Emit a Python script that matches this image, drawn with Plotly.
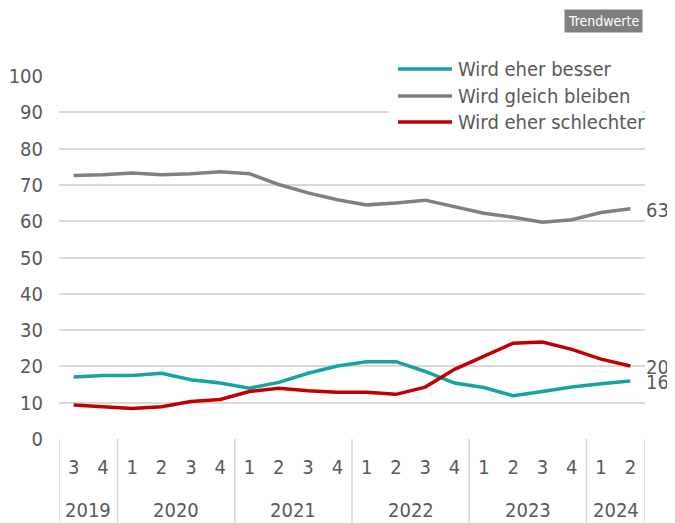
import plotly.graph_objects as go

# quarters per year shown on the x axis
years = ["2019", "2020", "2021", "2022", "2023", "2024"]
year_quarters = [["3", "4"], ["1", "2", "3", "4"], ["1", "2", "3", "4"],
                 ["1", "2", "3", "4"], ["1", "2", "3", "4"], ["1", "2"]]

series_names = ["Wird eher besser", "Wird gleich bleiben", "Wird eher schlechter"]
besser = [17.1, 17.5, 17.5, 18.1, 16.3, 15.4, 14.0, 15.6, 18.1, 20.1,
          21.3, 21.3, 18.6, 15.4, 14.2, 11.9, 13.1, 14.3, 15.2, 16.0]
gleich = [72.6, 72.8, 73.3, 72.8, 73.1, 73.6, 73.1, 70.1, 67.8, 65.9,
          64.5, 65.0, 65.8, 64.1, 62.2, 61.1, 59.7, 60.4, 62.4, 63.4]
schlechter = [9.4, 8.9, 8.4, 8.9, 10.3, 10.9, 13.1, 14.0, 13.3, 12.9,
              12.9, 12.3, 14.3, 19.2, 22.7, 26.4, 26.7, 24.7, 22.0, 20.1]
end_labels = ["16", "63", "20"]

colors = ["#17A2A4", "#808080", "#C00000"]
FONT = "Liberation Sans Narrow, DejaVu Sans Condensed, Roboto Condensed, Liberation Sans, sans-serif"
FS = 20
TXT = "#595959"
GRID = "#D9D9D9"

quarter_labels = [q for qs in year_quarters for q in qs]
xs = list(range(len(quarter_labels)))

fig = go.Figure()
for name, vals, col in zip(series_names, [besser, gleich, schlechter], colors):
    fig.add_trace(go.Scatter(x=xs, y=vals, mode="lines", name=name,
                             line=dict(color=col, width=3.5), showlegend=False))

# end value labels
for vals, lab in zip([besser, gleich, schlechter], end_labels):
    fig.add_annotation(x=xs[-1], y=vals[-1], text=lab, showarrow=False,
                       xanchor="left", xshift=14, yshift=-1,
                       font=dict(family=FONT, size=FS, color=TXT))

# year table below the axis
shapes = []
start = 0
bounds = [-0.5]
for yr, qs in zip(years, year_quarters):
    mid = start + (len(qs) - 1) / 2
    fig.add_annotation(x=mid, y=-0.196, yref="paper", text=yr, showarrow=False,
                       yanchor="middle", font=dict(family=FONT, size=FS, color=TXT))
    start += len(qs)
    bounds.append(start - 0.5)
for b in bounds:
    shapes.append(dict(type="line", xref="x", yref="paper", x0=b, x1=b, y0=0, y1=-0.4,
                       line=dict(color=GRID, width=1.5)))

# legend drawn by hand (longer line keys, white box over the grid)
shapes.append(dict(type="rect", xref="paper", yref="paper", x0=0.562, x1=0.994,
                   y0=0.835, y1=1.06, fillcolor="white", line=dict(width=0), layer="above"))
leg_y = [1.019, 0.945, 0.873]
for name, col, ly in zip(series_names, colors, leg_y):
    shapes.append(dict(type="line", xref="paper", yref="paper", x0=0.5785, x1=0.6706,
                       y0=ly, y1=ly, line=dict(color=col, width=3.5), layer="above"))
    fig.add_annotation(x=0.677, y=ly, xref="paper", yref="paper", text=name,
                       showarrow=False, xanchor="left", yanchor="middle",
                       font=dict(family=FONT, size=FS, color=TXT))

fig.add_annotation(x=0.9966, y=1.1515, xref="paper", yref="paper", text="Trendwerte",
                   showarrow=False, xanchor="right", yanchor="middle", bgcolor="#7F7F7F",
                   borderpad=3, font=dict(family=FONT, size=14, color="white"))

# page body has an 8px margin, so the figure is 8px smaller each way
fig.update_layout(
    width=667, height=515,
    margin=dict(l=51, r=30, t=68, b=84, autoexpand=False),
    paper_bgcolor="white", plot_bgcolor="white",
    shapes=shapes,
    xaxis=dict(range=[-0.5, 19.5], tickvals=xs, ticktext=quarter_labels,
               showgrid=False, zeroline=False, showline=False, ticks="",
               ticklabelstandoff=14, automargin=False,
               tickfont=dict(family=FONT, size=FS, color=TXT)),
    yaxis=dict(range=[0, 100], dtick=10, showgrid=True, gridcolor=GRID, gridwidth=1.5,
               zeroline=False, showline=False, ticks="", ticklabelstandoff=15,
               automargin=False,
               tickfont=dict(family=FONT, size=FS, color=TXT)),
)

fig.write_html("out.html")
